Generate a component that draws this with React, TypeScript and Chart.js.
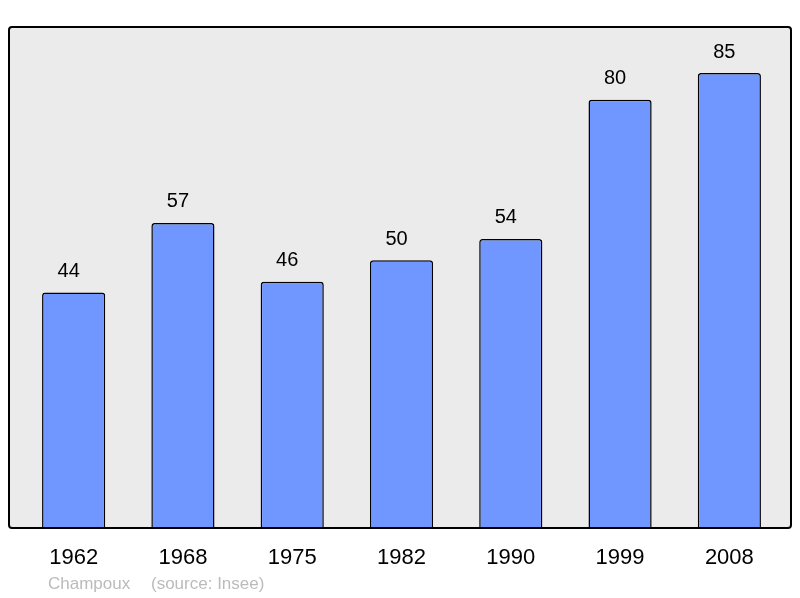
import React, { useEffect, useRef } from "react";
import { Chart, registerables } from "chart.js";
Chart.register(...registerables);

const years = ["1962", "1968", "1975", "1982", "1990", "1999", "2008"];
const population = [44, 57, 46, 50, 54, 80, 85];
const footerName = "Champoux";
const footerSource = "(source: Insee)";

const framePlugin = {
  id: "frame",
  beforeDraw(chart: any) {
    const { ctx, chartArea } = chart;
    const x0 = chartArea.left - 10, x1 = chartArea.right + 7;
    const y0 = chartArea.top, y1 = chartArea.bottom;
    ctx.save();
    ctx.beginPath();
    (ctx as any).roundRect(x0, y0, x1 - x0, y1 - y0, 3);
    ctx.fillStyle = "#ebebeb";
    ctx.fill();
    ctx.restore();
  },
  afterDatasetsDraw(chart: any) {
    const { ctx, chartArea } = chart;
    const x0 = chartArea.left - 10, x1 = chartArea.right + 7;
    const y0 = chartArea.top, y1 = chartArea.bottom;
    ctx.save();
    ctx.beginPath();
    (ctx as any).roundRect(x0, y0, x1 - x0, y1 - y0, 3);
    ctx.lineWidth = 2;
    ctx.strokeStyle = "#000";
    ctx.stroke();
    const xs = chart.scales.x;
    const ys = chart.scales.y;
    ctx.fillStyle = "#000";
    ctx.textAlign = "center";
    ctx.textBaseline = "middle";
    ctx.font = "20px 'Liberation Sans', Arial, sans-serif";
    population.forEach((v, i) => {
      ctx.fillText(String(v), xs.getPixelForValue(i) - 5, ys.getPixelForValue(v) - 21);
    });
    ctx.font = "22px 'Liberation Sans', Arial, sans-serif";
    years.forEach((y, i) => {
      ctx.fillText(y, xs.getPixelForValue(i), chartArea.bottom + 30);
    });
    ctx.fillStyle = "#bbbbbb";
    ctx.font = "17px 'Liberation Sans', Arial, sans-serif";
    ctx.textAlign = "left";
    ctx.fillText(footerName, 48, chartArea.bottom + 56);
    ctx.fillText(footerSource, 151, chartArea.bottom + 56);
    ctx.restore();
  },
};

export default function App() {
  const ref = useRef<HTMLCanvasElement>(null);
  useEffect(() => {
    const chart = new Chart(ref.current!, {
      type: "bar",
      data: {
        labels: years,
        datasets: [
          {
            data: population,
            backgroundColor: "#7097ff",
            borderColor: "#000",
            borderWidth: 1.5,
            borderRadius: { topLeft: 3, topRight: 3, bottomLeft: 0, bottomRight: 0 },
            borderSkipped: "bottom",
            barPercentage: 0.578,
            categoryPercentage: 1,
          },
        ],
      },
      options: {
        animation: false,
        responsive: false,
        maintainAspectRatio: false,
        layout: { padding: { left: 19, right: 16, top: 27, bottom: 70 } },
        plugins: { legend: { display: false }, tooltip: { enabled: false } },
        scales: {
          x: { display: false },
          y: { display: false, min: 0, max: 93.6 },
        },
      },
      plugins: [framePlugin],
    });
    return () => chart.destroy();
  }, []);
  return (
    <div style={{ position: "fixed", left: 0, top: 0, width: 800, height: 598, background: "#fff" }}>
      <canvas ref={ref} width={800} height={598} style={{ width: 800, height: 598 }} />
    </div>
  );
}
